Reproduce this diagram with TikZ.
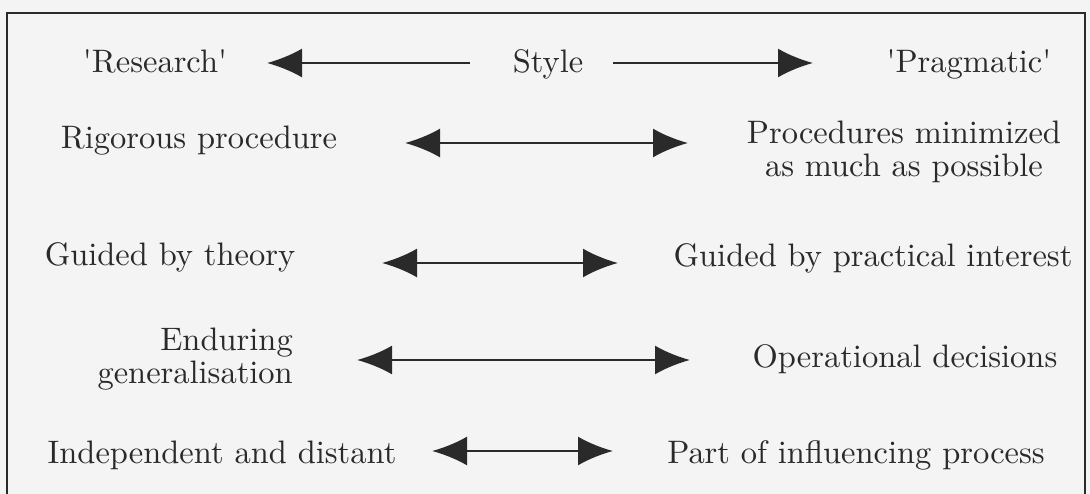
\documentclass[tikz,border=0pt]{standalone}
\usepackage{fontspec}
\setmainfont{lmroman10-regular}[Extension=.otf]
\usetikzlibrary{arrows.meta}
\definecolor{paper}{HTML}{F4F4F4}
\definecolor{ink}{HTML}{2A2A2A}
\begin{document}
\begin{tikzpicture}[x=1pt,y=-1pt,
  txt/.style={inner sep=0pt,text=ink,font=\fontsize{32.5}{33}\selectfont},
  dbl/.style={draw=ink,line width=2.6pt,
    {Latex[length=35pt,width=29pt]}-{Latex[length=35pt,width=29pt]}},
  sgl/.style={draw=ink,line width=2.6pt,-{Latex[length=35pt,width=29pt]}}]
  % page and frame
  \fill[paper] (0,0) rectangle (1090,494);
  \useasboundingbox (0,0) rectangle (1090,494);
  \draw[ink,line width=2.4pt] (7,494) -- (7,13) -- (1085,13) -- (1085,494);

  % heading row
  \node[txt,anchor=base] (research)  at (155,73) {\textquotesingle Research\textquotesingle};
  \node[txt,anchor=base] (style)     at (548,73) {Style};
  \node[txt,anchor=base] (pragmatic) at (969,73) {\textquotesingle Pragmatic\textquotesingle};
  \coordinate (hl) at (470,63);
  \coordinate (hr) at (613,63);
  \coordinate (tl) at (267,63);
  \coordinate (tr) at (813,63);
  \draw[sgl] (hl) -- (tl);
  \draw[sgl] (hr) -- (tr);

  % row 2
  \node[txt,anchor=base] (rigorous) at (199,149) {Rigorous procedure};
  \node[txt,align=center] (minimized) at (904,152)
    {Procedures minimized\\as much as possible};
  \coordinate (a2l) at (405,143);
  \coordinate (a2r) at (688,143);
  \draw[dbl] (a2l) -- (a2r);

  % row 3
  \node[txt,anchor=base] (theory)    at (170,266) {Guided by theory};
  \node[txt,anchor=base] (practical) at (873,267) {Guided by practical interest};
  \coordinate (a3l) at (382,263);
  \coordinate (a3r) at (618,263);
  \draw[dbl] (a3l) -- (a3r);

  % row 4
  \node[txt,align=right,anchor=east] (enduring) at (293,359)
    {Enduring\\generalisation};
  \node[txt,anchor=base] (operational) at (905,367) {Operational decisions};
  \coordinate (a4l) at (357,360);
  \coordinate (a4r) at (690,360);
  \draw[dbl] (a4l) -- (a4r);

  % row 5
  \node[txt,anchor=base] (independent) at (222,463) {Independent and distant};
  \node[txt,anchor=base] (influencing) at (856,463) {Part of influencing process};
  \coordinate (a5l) at (432,451);
  \coordinate (a5r) at (613,451);
  \draw[dbl] (a5l) -- (a5r);
\end{tikzpicture}
\end{document}
